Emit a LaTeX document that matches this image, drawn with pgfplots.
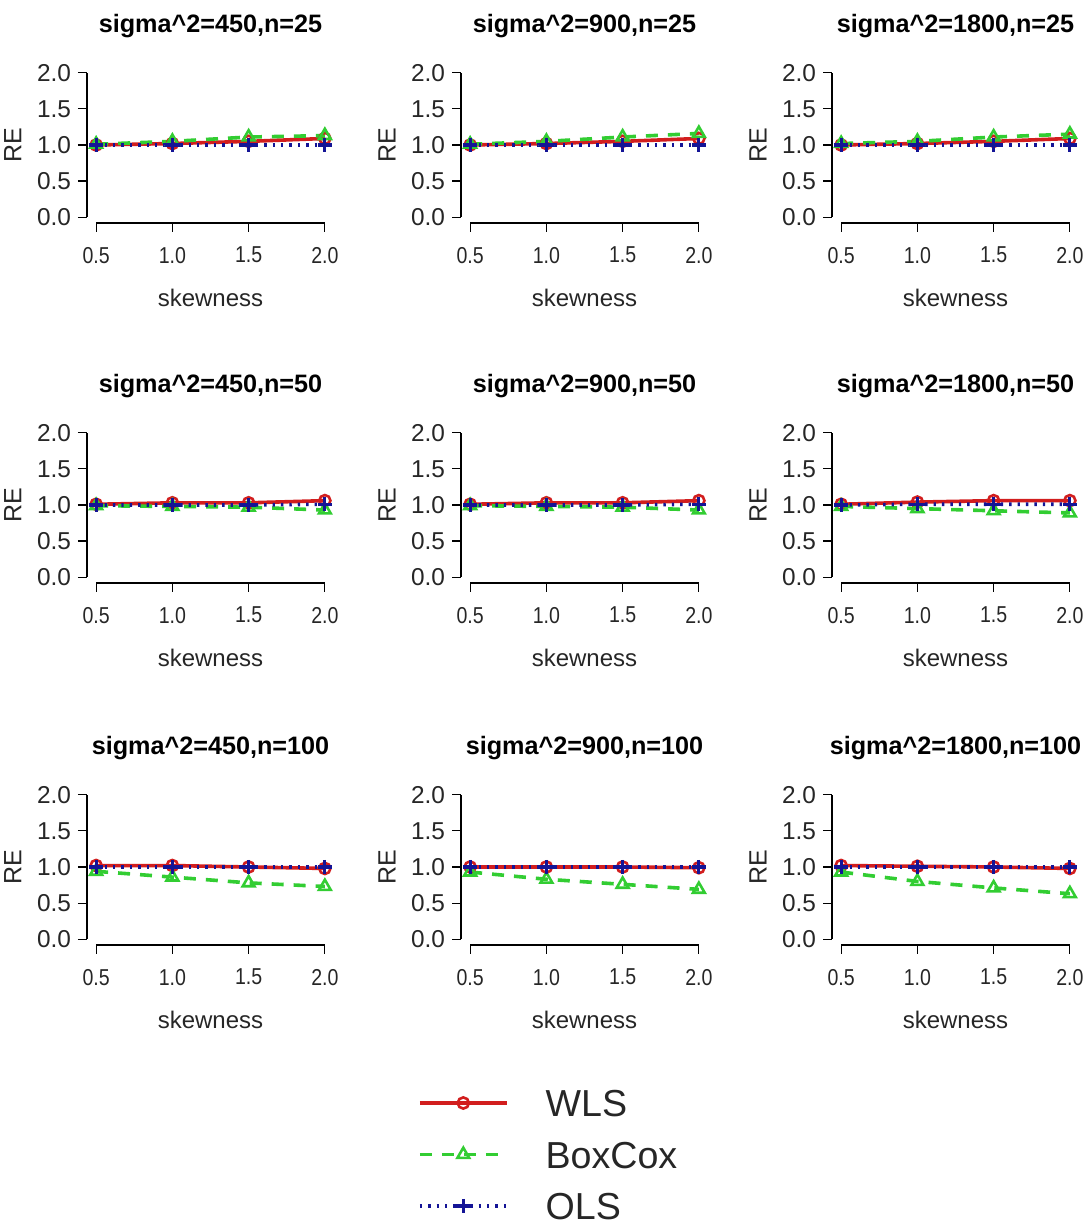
\documentclass[border=0pt]{standalone}
\usepackage{fontspec}
\setmainfont{Liberation Sans}
\newfontfamily\xtfont[FakeStretch=0.85]{Liberation Sans}
\usepackage{pgfplots}
\usepackage{pgfplotstable}
\pgfplotsset{compat=1.18}
\definecolor{cWLS}{RGB}{210,30,30}
\definecolor{cBox}{RGB}{50,205,50}
\definecolor{cOLS}{RGB}{20,20,150}

\pgfplotstableread{
x w b o
0.5 1.00 1.01 1.00
1.0 1.02 1.05 1.00
1.5 1.05 1.11 1.00
2.0 1.09 1.13 1.00
}\dA
\pgfplotstableread{
x w b o
0.5 1.00 1.01 1.00
1.0 1.02 1.05 1.00
1.5 1.05 1.11 1.00
2.0 1.09 1.16 1.00
}\dB
\pgfplotstableread{
x w b o
0.5 1.00 1.02 1.00
1.0 1.02 1.05 1.00
1.5 1.05 1.11 1.00
2.0 1.09 1.15 1.00
}\dC
\pgfplotstableread{
x w b o
0.5 1.01 0.99 1.00
1.0 1.03 0.98 1.00
1.5 1.03 0.97 1.00
2.0 1.06 0.93 1.01
}\dD
\pgfplotstableread{
x w b o
0.5 1.01 0.99 1.00
1.0 1.03 0.98 1.00
1.5 1.03 0.97 1.00
2.0 1.06 0.93 1.01
}\dE
\pgfplotstableread{
x w b o
0.5 1.01 0.98 1.00
1.0 1.04 0.95 1.01
1.5 1.06 0.92 1.01
2.0 1.06 0.89 1.01
}\dF
\pgfplotstableread{
x w b o
0.5 1.02 0.94 1.00
1.0 1.02 0.86 1.00
1.5 1.00 0.78 1.00
2.0 0.98 0.73 1.00
}\dG
\pgfplotstableread{
x w b o
0.5 1.00 0.93 1.00
1.0 1.00 0.83 1.00
1.5 1.00 0.76 1.00
2.0 0.99 0.69 1.00
}\dH
\pgfplotstableread{
x w b o
0.5 1.02 0.93 1.00
1.0 1.01 0.80 1.00
1.5 1.00 0.71 1.00
2.0 0.98 0.63 1.00
}\dI

\pgfplotsset{
 wls/.style={color=cWLS, line width=1.8pt, mark=o, mark size=2.8pt, mark options={solid, line width=1.3pt}},
 box/.style={color=cBox, line width=1.8pt, dash pattern=on 6pt off 5pt, mark=triangle, mark size=3.4pt, mark options={solid, line width=1.3pt}},
 ols/.style={color=cOLS, line width=1.8pt, dash pattern=on 1.2pt off 3pt, mark=+, mark size=3.6pt, mark options={solid, line width=1.6pt}},
 panel/.style={
  anchor=south west,
  scale only axis, width=123.5pt, height=78pt,
  xmin=0.44, xmax=2.06, ymin=-0.08, ymax=2.08,
  axis x line*=bottom, axis y line*=left, axis line style={draw=none},
  clip=false,
  tick align=outside, major tick length=4.5pt, tick style={black, line width=0.6pt},
  xtick={0.5,1,1.5,2}, xticklabels={0.5,1.0,1.5,2.0},
  ytick={0,0.5,1,1.5,2}, yticklabels={0.0,0.5,1.0,1.5,2.0},
  xticklabel style={font=\xtfont\fontsize{11.5}{12}\selectfont, text=black!85, yshift=-4pt},
  yticklabel style={font=\fontsize{12.2}{12}\selectfont, text=black!85},
  title style={at={(0.5,1.186)}, anchor=center, font=\bfseries\fontsize{12.6}{14}\selectfont},
  xlabel={skewness}, ylabel={RE},
  xlabel style={at={(axis description cs:0.5,-0.48)}, anchor=center, font=\fontsize{12}{14}\selectfont, text=black!85},
  ylabel style={at={(axis description cs:-0.30,0.5)}, anchor=center, font=\fontsize{12.5}{14}\selectfont, text=black!85},
 },
}
\newcommand{\panelcontent}[1]{%
 \draw[line width=0.6pt] (axis cs:0.5,-0.08) -- (axis cs:2,-0.08);
 \draw[line width=0.6pt] (axis cs:0.44,0) -- (axis cs:0.44,2);
 \addplot[wls] table[x=x,y=w] {#1};
 \addplot[box] table[x=x,y=b] {#1};
 \addplot[ols] table[x=x,y=o] {#1};
}

\begin{document}
\begin{tikzpicture}
\useasboundingbox (0,0) rectangle (545.5pt,614.5pt);
\begin{axis}[panel, at={(43.5pt,503pt)}, title={sigma\^{}2=450,n=25}]
\panelcontent{\dA}
\end{axis}
\begin{axis}[panel, at={(230.5pt,503pt)}, title={sigma\^{}2=900,n=25}]
\panelcontent{\dB}
\end{axis}
\begin{axis}[panel, at={(416pt,503pt)}, title={sigma\^{}2=1800,n=25}]
\panelcontent{\dC}
\end{axis}
\begin{axis}[panel, at={(43.5pt,323pt)}, title={sigma\^{}2=450,n=50}]
\panelcontent{\dD}
\end{axis}
\begin{axis}[panel, at={(230.5pt,323pt)}, title={sigma\^{}2=900,n=50}]
\panelcontent{\dE}
\end{axis}
\begin{axis}[panel, at={(416pt,323pt)}, title={sigma\^{}2=1800,n=50}]
\panelcontent{\dF}
\end{axis}
\begin{axis}[panel, at={(43.5pt,142pt)}, title={sigma\^{}2=450,n=100}]
\panelcontent{\dG}
\end{axis}
\begin{axis}[panel, at={(230.5pt,142pt)}, title={sigma\^{}2=900,n=100}]
\panelcontent{\dH}
\end{axis}
\begin{axis}[panel, at={(416pt,142pt)}, title={sigma\^{}2=1800,n=100}]
\panelcontent{\dI}
\end{axis}
\begin{axis}[at={(209pt,0pt)}, anchor=south west, hide axis, scale only axis,
  width=100pt, height=68.75pt, xmin=0, xmax=1, ymin=0, ymax=1,
  legend style={at={(0,1)}, anchor=north west, draw=none, fill=none,
    font=\fontsize{18.8}{19}\selectfont, text=black!85, inner sep=0pt, outer sep=0pt,
    nodes={text height=12.5pt, text depth=0pt, inner sep=0pt},
    row sep=13.25pt, column sep=18.5pt},
  legend cell align=left,
  legend image code/.code={\draw[mark repeat=2, mark phase=2, #1] plot coordinates {(0pt,0.5pt) (21.75pt,0.5pt) (43.5pt,0.5pt)};}]
\addlegendimage{wls}
\addlegendentry{WLS}
\addlegendimage{box}
\addlegendentry{BoxCox}
\addlegendimage{ols}
\addlegendentry{OLS}
\end{axis}
\end{tikzpicture}
\end{document}
